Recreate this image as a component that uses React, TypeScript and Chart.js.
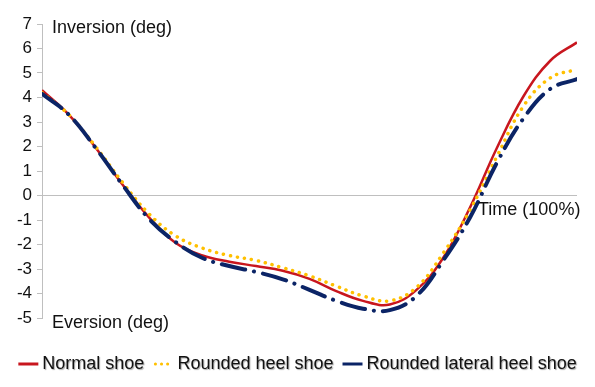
import React, { useEffect, useRef } from "react";
import { Chart, registerables } from "chart.js";

Chart.register(...registerables);

const timePct = [0, 5, 10, 15, 20, 25, 30, 35, 40, 45, 50, 55, 60, 65, 70, 75, 80, 85, 90, 95, 100];
const normalShoe = [4.3, 3.3, 1.96, 0.46, -0.89, -1.94, -2.45, -2.7, -2.88, -3.07, -3.4, -3.9, -4.3, -4.45, -3.85, -2.54, -0.49, 1.93, 4.05, 5.5, 6.25];
const roundedHeelShoe = [4.2, 3.3, 2.0, 0.55, -0.75, -1.65, -2.15, -2.45, -2.65, -2.95, -3.28, -3.7, -4.1, -4.3, -3.75, -2.35, -0.6, 1.58, 3.65, 4.8, 5.15];
const roundedLateralHeelShoe = [4.15, 3.3, 1.95, 0.45, -0.95, -1.9, -2.55, -2.88, -3.12, -3.42, -3.85, -4.3, -4.62, -4.68, -4.1, -2.65, -0.9, 1.33, 3.15, 4.35, 4.75];

const seriesLabels = ["Normal shoe", "Rounded heel shoe", "Rounded lateral heel shoe"];
const yMin = -5;
const yMax = 7;
const inversionLabel = "Inversion (deg)";
const eversionLabel = "Eversion (deg)";
const timeLabel = "Time (100%)";

const FONT = "'Liberation Sans', Arial, sans-serif";
const RED = "#c8161e";
const GOLD = "#ffc000";
const NAVY = "#0b2466";
const GRAY = "#bfbfbf";

export default function App() {
  const ref = useRef<HTMLCanvasElement>(null);

  useEffect(() => {
    if (!ref.current) return;
    const toPts = (arr: number[]) => arr.map((y, i) => ({ x: timePct[i], y }));

    const annotPlugin = {
      id: "annot",
      afterDraw(chart: any) {
        const ctx = chart.ctx;
        const xs = chart.scales.x;
        const ys = chart.scales.y;
        ctx.save();
        ctx.fillStyle = "#111";
        ctx.font = `18px ${FONT}`;
        ctx.textAlign = "left";
        ctx.textBaseline = "alphabetic";
        const left = chart.chartArea.left;
        ctx.fillText(inversionLabel, left + 10, ys.getPixelForValue(yMax) + 9);
        ctx.fillText(eversionLabel, left + 10, ys.getPixelForValue(yMin) + 10);
        ctx.fillText(timeLabel, xs.getPixelForValue(81.5), ys.getPixelForValue(0) + 19);
        ctx.restore();
      },
    };

    const legendPlugin = {
      id: "customLegend",
      afterDraw(chart: any) {
        const ctx = chart.ctx;
        ctx.save();
        ctx.font = `18px ${FONT}`;
        const lineW = 20;
        const gapText = 4;
        const gapItem = 9;
        const items = chart.data.datasets.map((d: any) => ({
          label: d.label,
          color: d.borderColor,
          dotted: d.legendDotted,
          w: ctx.measureText(d.label).width,
        }));
        items.sort((a: any, b: any) => seriesLabels.indexOf(a.label) - seriesLabels.indexOf(b.label));
        let total = 0;
        items.forEach((it: any, i: number) => {
          total += lineW + gapText + it.w + (i < items.length - 1 ? gapItem : 0);
        });
        let x = (chart.width - total) / 2;
        const y = 364;
        items.forEach((it: any) => {
          ctx.save();
          ctx.strokeStyle = it.color;
          if (it.dotted) {
            ctx.lineWidth = 3;
            ctx.lineCap = "round";
            ctx.setLineDash([0.1, 6]);
            ctx.beginPath();
            ctx.moveTo(x + 2, y);
            ctx.lineTo(x + lineW, y);
            ctx.stroke();
          } else {
            ctx.lineWidth = 3;
            ctx.lineCap = "butt";
            ctx.beginPath();
            ctx.moveTo(x, y);
            ctx.lineTo(x + lineW, y);
            ctx.stroke();
          }
          ctx.restore();
          x += lineW + gapText;
          ctx.save();
          ctx.fillStyle = "#111";
          ctx.shadowColor = "rgba(0,0,0,0.35)";
          ctx.shadowOffsetX = 1;
          ctx.shadowOffsetY = 1;
          ctx.shadowBlur = 1;
          ctx.textBaseline = "middle";
          ctx.textAlign = "left";
          ctx.fillText(it.label, x, y);
          ctx.restore();
          x += it.w + gapItem;
        });
        ctx.restore();
      },
    };

    const chart = new Chart(ref.current, {
      type: "line",
      data: {
        datasets: [
          {
            label: seriesLabels[2],
            data: toPts(roundedLateralHeelShoe),
            borderColor: NAVY,
            borderWidth: 4,
            borderDash: [24, 9, 0.1, 9],
            borderCapStyle: "round",
            tension: 0.4,
            pointRadius: 0,
            fill: false,
            order: 0,
          } as any,
          {
            label: seriesLabels[1],
            data: toPts(roundedHeelShoe),
            borderColor: GOLD,
            borderWidth: 3.5,
            borderDash: [0.1, 7],
            borderCapStyle: "round",
            tension: 0.4,
            pointRadius: 0,
            fill: false,
            order: 1,
            legendDotted: true,
          } as any,
          {
            label: seriesLabels[0],
            data: toPts(normalShoe),
            borderColor: RED,
            borderWidth: 2.5,
            tension: 0.4,
            pointRadius: 0,
            fill: false,
            order: 2,
          } as any,
        ],
      },
      options: {
        responsive: false,
        animation: false,
        layout: { padding: { left: 0, right: 18, top: 24, bottom: 69 } },
        plugins: { legend: { display: false }, tooltip: { enabled: false } },
        scales: {
          x: { type: "linear", min: 0, max: 100, display: false },
          y: {
            min: yMin,
            max: yMax,
            ticks: {
              stepSize: 1,
              font: { family: FONT, size: 17 },
              color: "#111",
              padding: 5,
            },
            grid: {
              drawOnChartArea: true,
              color: (c: any) => (c.tick && c.tick.value === 0 ? GRAY : "rgba(0,0,0,0)"),
              tickColor: GRAY,
              tickLength: 5,
              lineWidth: 1,
            },
            border: { color: GRAY, width: 1 },
            afterFit: (s: any) => {
              s.width = 42;
            },
          },
        },
      } as any,
      plugins: [annotPlugin, legendPlugin],
    });
    return () => chart.destroy();
  }, []);

  return (
    <div style={{ position: "fixed", left: 0, top: 0, width: 595, height: 387, background: "#fff" }}>
      <canvas ref={ref} width={595} height={387} style={{ display: "block" }} />
    </div>
  );
}
